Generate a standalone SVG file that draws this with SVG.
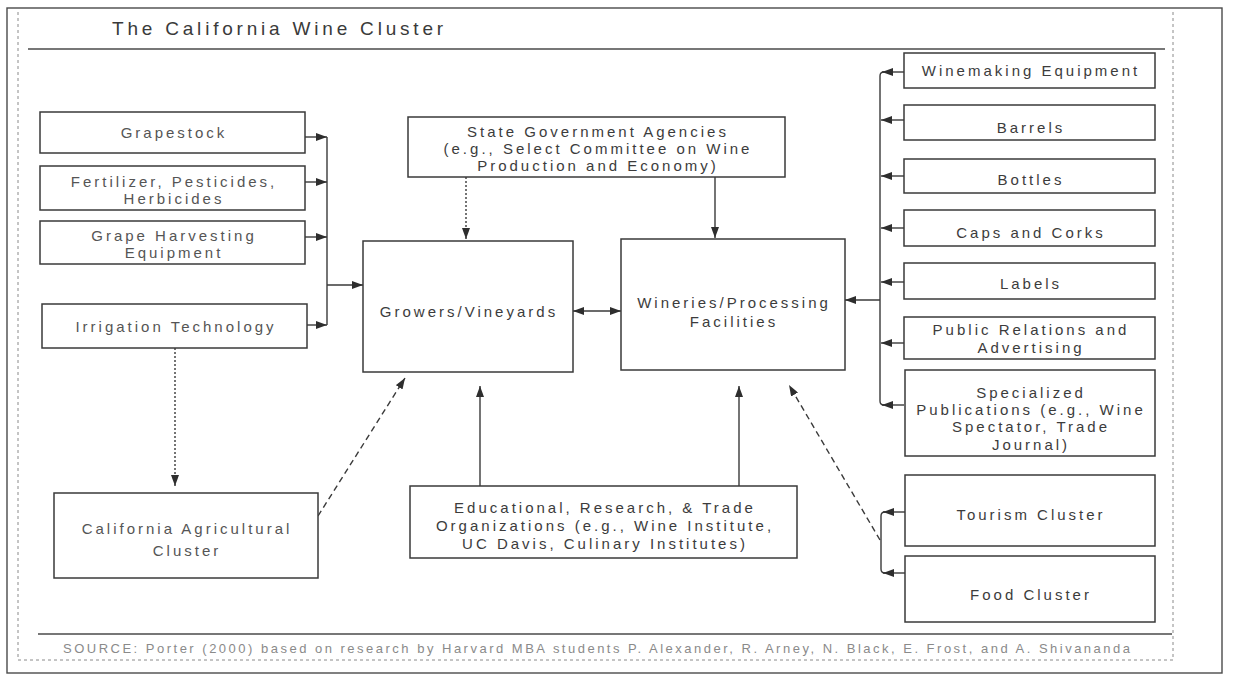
<svg xmlns="http://www.w3.org/2000/svg" width="1235" height="683" viewBox="0 0 1235 683">
  <style>
    .box { fill: #ffffff; stroke: #3a3a3a; stroke-width: 1.5; }
    .lbl { font-family: "Liberation Sans", Arial, sans-serif; font-size: 15px; letter-spacing: 3px; fill: #3c3c3c; text-anchor: middle; }
    .lbl.faint { fill: #555555; }
    .title { font-family: "Liberation Sans", Arial, sans-serif; font-size: 19px; letter-spacing: 3.8px; fill: #3a3a3a; }
    .src { font-family: "Liberation Sans", Arial, sans-serif; font-size: 13px; fill: #8a8a8a; }
    .frame { fill: none; stroke: #4a4a4a; stroke-width: 1.4; }
    .frame-dot { fill: none; stroke: #8a8a8a; stroke-width: 1; stroke-dasharray: 3 3; }
    .rule { stroke: #4a4a4a; stroke-width: 1.3; }
    .link { fill: none; stroke: #3a3a3a; stroke-width: 1.4; }
    .link.dotted { stroke-dasharray: 2 2; }
    .link.dashed { stroke-dasharray: 6 4; }
    .arrow { marker-end: url(#head); }
  </style>
  <defs>
    <marker id="head" markerUnits="userSpaceOnUse" markerWidth="11" markerHeight="8" refX="11" refY="4" orient="auto-start-reverse">
      <path d="M0,0 L11,4 L0,8 z" fill="#2e2e2e"/>
    </marker>
  </defs>

  <rect width="1235" height="683" fill="#ffffff"/>

  <!-- page frame, title and source rules -->
  <g id="frame">
    <rect class="frame" x="7" y="8" width="1215" height="665"/>
    <line class="frame-dot" x1="18" y1="12" x2="18" y2="660"/>
    <line class="frame-dot" x1="1173" y1="12" x2="1173" y2="660"/>
    <line class="frame-dot" x1="18" y1="660" x2="1173" y2="660"/>
    <line class="rule" x1="28" y1="49" x2="1165" y2="49"/>
    <line class="rule" x1="38" y1="634" x2="1172" y2="634"/>
    <text class="title" x="112" y="35">The California Wine Cluster</text>
    <text class="src" x="63" y="653" textLength="1067" lengthAdjust="spacing">SOURCE: Porter (2000) based on research by Harvard MBA students P. Alexander, R. Arney, N. Black, E. Frost, and A. Shivananda</text>
  </g>

  <!-- connectors -->
  <g id="connectors">
    <!-- input suppliers into the growers -->
    <line class="link arrow" x1="305" y1="137" x2="327" y2="137"/>
    <line class="link arrow" x1="305" y1="182" x2="327" y2="182"/>
    <line class="link arrow" x1="305" y1="237" x2="327" y2="237"/>
    <line class="link arrow" x1="307" y1="325" x2="327" y2="325"/>
    <path class="link" d="M327,137 V325"/>
    <line class="link arrow" x1="327" y1="285" x2="363" y2="285"/>

    <!-- state agencies -->
    <line class="link dotted arrow" x1="466" y1="177" x2="466" y2="239"/>
    <line class="link arrow" x1="715" y1="177" x2="715" y2="238"/>

    <!-- growers and wineries -->
    <line class="link arrow" x1="573" y1="311" x2="621" y2="311" style="marker-start:url(#head)"/>

    <!-- education and research -->
    <line class="link arrow" x1="480" y1="486" x2="480" y2="386"/>
    <line class="link arrow" x1="739" y1="486" x2="739" y2="386"/>

    <!-- agricultural cluster -->
    <line class="link dotted arrow" x1="175" y1="348" x2="175" y2="486"/>
    <line class="link dashed arrow" x1="318" y1="516" x2="405" y2="378"/>

    <!-- supplier bus into the wineries -->
    <path class="link" d="M880,76 Q880,72 884,72 M880,76 V401 Q880,405 884,405"/>
    <line class="link arrow" x1="904" y1="72" x2="882" y2="72"/>
    <line class="link arrow" x1="904" y1="120" x2="881" y2="120"/>
    <line class="link arrow" x1="904" y1="176" x2="881" y2="176"/>
    <line class="link arrow" x1="904" y1="228" x2="881" y2="228"/>
    <line class="link arrow" x1="904" y1="282" x2="881" y2="282"/>
    <line class="link arrow" x1="904" y1="343" x2="881" y2="343"/>
    <line class="link arrow" x1="904" y1="405" x2="882" y2="405"/>
    <line class="link arrow" x1="880" y1="300" x2="845" y2="300"/>

    <!-- related clusters -->
    <path class="link" d="M885,512 Q881,512 881,516 V569 Q881,573 885,573"/>
    <line class="link arrow" x1="905" y1="512" x2="883" y2="512"/>
    <line class="link arrow" x1="905" y1="573" x2="883" y2="573"/>
    <line class="link dashed arrow" x1="880" y1="540" x2="789" y2="385"/>
  </g>

  <!-- left column: inputs -->
  <g id="grapestock">
    <rect class="box" x="40" y="112" width="265" height="41"/>
    <text class="lbl faint" x="174" y="138">Grapestock</text>
  </g>
  <g id="fertilizer">
    <rect class="box" x="40" y="166" width="265" height="44"/>
    <text class="lbl faint" x="174" y="187">Fertilizer, Pesticides,</text>
    <text class="lbl faint" x="174" y="204">Herbicides</text>
  </g>
  <g id="harvesting">
    <rect class="box" x="40" y="221" width="265" height="43"/>
    <text class="lbl faint" x="174" y="241">Grape Harvesting</text>
    <text class="lbl faint" x="174" y="258">Equipment</text>
  </g>
  <g id="irrigation">
    <rect class="box" x="42" y="304" width="265" height="44"/>
    <text class="lbl faint" x="176" y="332">Irrigation Technology</text>
  </g>
  <g id="agricultural-cluster">
    <rect class="box" x="54" y="493" width="264" height="85"/>
    <text class="lbl faint" x="187" y="534">California Agricultural</text>
    <text class="lbl faint" x="187" y="556">Cluster</text>
  </g>

  <!-- centre -->
  <g id="state-agencies">
    <rect class="box" x="408" y="117" width="377" height="60"/>
    <text class="lbl" x="598" y="137">State Government Agencies</text>
    <text class="lbl" x="598" y="154">(e.g., Select Committee on Wine</text>
    <text class="lbl" x="598" y="171">Production and Economy)</text>
  </g>
  <g id="growers">
    <rect class="box" x="363" y="241" width="210" height="131"/>
    <text class="lbl" x="469" y="317">Growers/Vineyards</text>
  </g>
  <g id="wineries">
    <rect class="box" x="621" y="239" width="224" height="131"/>
    <text class="lbl" x="734" y="308">Wineries/Processing</text>
    <text class="lbl" x="734" y="327">Facilities</text>
  </g>
  <g id="education">
    <rect class="box" x="410" y="486" width="387" height="72"/>
    <text class="lbl" x="605" y="513">Educational, Research, &amp; Trade</text>
    <text class="lbl" x="605" y="531">Organizations (e.g., Wine Institute,</text>
    <text class="lbl" x="605" y="549">UC Davis, Culinary Institutes)</text>
  </g>

  <!-- right column: suppliers and related clusters -->
  <g id="winemaking-equipment">
    <rect class="box" x="904" y="53" width="251" height="35"/>
    <text class="lbl" x="1031" y="76">Winemaking Equipment</text>
  </g>
  <g id="barrels">
    <rect class="box" x="904" y="105" width="251" height="35"/>
    <text class="lbl" x="1031" y="133">Barrels</text>
  </g>
  <g id="bottles">
    <rect class="box" x="904" y="159" width="251" height="34"/>
    <text class="lbl" x="1031" y="185">Bottles</text>
  </g>
  <g id="caps-corks">
    <rect class="box" x="904" y="210" width="251" height="36"/>
    <text class="lbl" x="1031" y="238">Caps and Corks</text>
  </g>
  <g id="labels">
    <rect class="box" x="904" y="263" width="251" height="36"/>
    <text class="lbl" x="1031" y="289">Labels</text>
  </g>
  <g id="public-relations">
    <rect class="box" x="904" y="317" width="251" height="42"/>
    <text class="lbl" x="1031" y="335">Public Relations and</text>
    <text class="lbl" x="1031" y="353">Advertising</text>
  </g>
  <g id="publications">
    <rect class="box" x="905" y="370" width="250" height="86"/>
    <text class="lbl" x="1031" y="398">Specialized</text>
    <text class="lbl" x="1031" y="415">Publications (e.g., Wine</text>
    <text class="lbl" x="1031" y="432">Spectator, Trade</text>
    <text class="lbl" x="1031" y="450">Journal)</text>
  </g>
  <g id="tourism">
    <rect class="box" x="905" y="475" width="250" height="71"/>
    <text class="lbl" x="1031" y="520">Tourism Cluster</text>
  </g>
  <g id="food">
    <rect class="box" x="905" y="556" width="250" height="66"/>
    <text class="lbl" x="1031" y="600">Food Cluster</text>
  </g>
</svg>
